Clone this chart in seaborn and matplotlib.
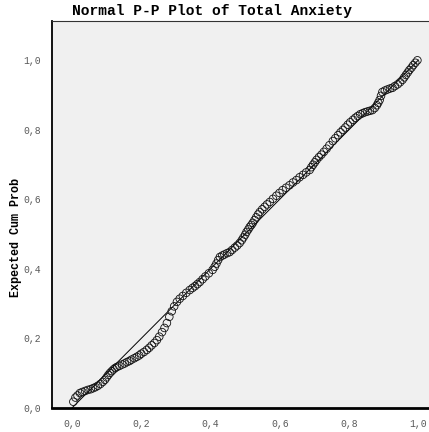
import matplotlib
matplotlib.use("Agg")
import matplotlib.pyplot as plt
import seaborn as sns
import pandas as pd

title = "Normal P-P Plot of Total Anxiety"
y_label = "Expected Cum Prob"
tick_values = [0.0, 0.2, 0.4, 0.6, 0.8, 1.0]
tick_labels = ["0,0", "0,2", "0,4", "0,6", "0,8", "1,0"]
ref_line = [0.0, 1.0]

observed = [0.004, 0.010, 0.016, 0.023, 0.030, 0.038, 0.046, 0.054, 0.061, 0.068,
            0.075, 0.082, 0.089, 0.095, 0.100, 0.105, 0.110, 0.115, 0.120, 0.125,
            0.130, 0.137, 0.145, 0.152, 0.159, 0.166, 0.172, 0.180, 0.187, 0.194,
            0.200, 0.208, 0.216, 0.223, 0.230, 0.238, 0.245, 0.252, 0.260, 0.267,
            0.274, 0.281, 0.288, 0.295, 0.303, 0.311, 0.320, 0.330, 0.340, 0.348,
            0.355, 0.362, 0.369, 0.377, 0.385, 0.395, 0.406, 0.412, 0.417, 0.422,
            0.427, 0.434, 0.440, 0.448, 0.455, 0.462, 0.470, 0.477, 0.484, 0.490,
            0.495, 0.500, 0.504, 0.509, 0.513, 0.518, 0.522, 0.527, 0.532, 0.537,
            0.542, 0.549, 0.556, 0.563, 0.571, 0.580, 0.590, 0.599, 0.608, 0.618,
            0.628, 0.638, 0.648, 0.657, 0.667, 0.676, 0.686, 0.691, 0.696, 0.701,
            0.706, 0.713, 0.720, 0.727, 0.735, 0.743, 0.753, 0.760, 0.768, 0.775,
            0.782, 0.789, 0.796, 0.803, 0.811, 0.818, 0.825, 0.832, 0.839, 0.846,
            0.853, 0.860, 0.867, 0.874, 0.880, 0.884, 0.888, 0.892, 0.896, 0.903,
            0.910, 0.918, 0.925, 0.932, 0.940, 0.947, 0.954, 0.959, 0.964, 0.969,
            0.974, 0.980, 0.985, 0.991, 0.997]
expected = [0.018, 0.030, 0.036, 0.043, 0.046, 0.049, 0.052, 0.054, 0.057, 0.060,
            0.064, 0.069, 0.075, 0.081, 0.088, 0.095, 0.101, 0.106, 0.111, 0.115,
            0.118, 0.121, 0.125, 0.128, 0.132, 0.135, 0.139, 0.143, 0.147, 0.151,
            0.156, 0.161, 0.167, 0.173, 0.180, 0.187, 0.195, 0.205, 0.218, 0.230,
            0.244, 0.262, 0.278, 0.292, 0.305, 0.314, 0.322, 0.331, 0.339, 0.345,
            0.350, 0.356, 0.362, 0.370, 0.378, 0.387, 0.397, 0.406, 0.415, 0.425,
            0.434, 0.438, 0.441, 0.445, 0.448, 0.454, 0.461, 0.467, 0.474, 0.482,
            0.490, 0.498, 0.506, 0.513, 0.520, 0.526, 0.532, 0.540, 0.548, 0.556,
            0.563, 0.571, 0.578, 0.585, 0.592, 0.601, 0.610, 0.618, 0.626, 0.633,
            0.640, 0.648, 0.655, 0.663, 0.670, 0.677, 0.684, 0.692, 0.699, 0.706,
            0.713, 0.721, 0.728, 0.736, 0.745, 0.755, 0.767, 0.775, 0.784, 0.792,
            0.799, 0.806, 0.814, 0.821, 0.828, 0.834, 0.839, 0.844, 0.847, 0.850,
            0.852, 0.854, 0.856, 0.862, 0.870, 0.877, 0.885, 0.897, 0.908, 0.912,
            0.915, 0.918, 0.920, 0.925, 0.930, 0.936, 0.943, 0.950, 0.957, 0.964,
            0.971, 0.978, 0.985, 0.992, 0.999]

df = pd.DataFrame({"observed": observed, "expected": expected})
line_df = pd.DataFrame({"x": ref_line, "y": ref_line})

sns.set_style("white")
plt.rcParams["font.family"] = ["Liberation Mono", "DejaVu Sans Mono"]

W, H = 429, 432
fig = plt.figure(figsize=(W / 100, H / 100), dpi=100)
ax = fig.add_axes([52 / W, (H - 408) / H, (W - 52) / W, (408 - 21) / H])
ax.set_facecolor("#f0f0f0")

sns.lineplot(data=line_df, x="x", y="y", ax=ax, color="black", linewidth=0.7,
             zorder=2)
sns.scatterplot(data=df, x="observed", y="expected", ax=ax, marker="o", s=30,
                facecolors="none", edgecolor="#111111", linewidth=0.6, zorder=3)

ax.set_xlim(-0.0576, 1.0305)
ax.set_ylim(0.0, 1.112)
ax.set_xticks(tick_values)
ax.set_xticklabels(tick_labels)
ax.set_yticks(tick_values)
ax.set_yticklabels(tick_labels)
ax.tick_params(axis="both", direction="out", length=5, width=1.2, colors="black",
               labelcolor="#5a5a5a", labelsize=7, pad=3)
ax.set_xlabel("")
ax.set_ylabel(y_label, fontsize=8.5, fontweight="bold", color="black")
ax.yaxis.set_label_coords(-0.080, 0.44)

for side in ["left", "bottom", "top"]:
    ax.spines[side].set_visible(True)
    ax.spines[side].set_color("black")
ax.spines["right"].set_visible(False)
ax.spines["left"].set_linewidth(1.3)
ax.spines["bottom"].set_linewidth(2.0)
ax.spines["top"].set_linewidth(0.8)
ax.spines["top"].set_color("#333333")

fig.text(212 / W, 1 - 11 / H, title, ha="center", va="center", fontsize=10.5,
         fontweight="bold", color="black")

fig.savefig("out.png", dpi=100, facecolor="white")
